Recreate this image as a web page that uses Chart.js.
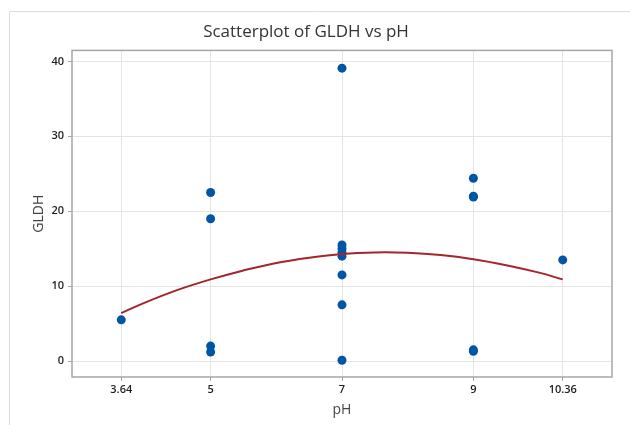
<!DOCTYPE html>
<html>
<head>
<meta charset="utf-8">
<script src="https://cdn.jsdelivr.net/npm/chart.js@4"></script>
<style>
  html, body { margin: 0; padding: 0; background: #fff; }
  #wrap { width: 630px; height: 425px; }
</style>
</head>
<body>
<div id="wrap"><canvas id="plot" width="630" height="425"></canvas></div>
<script>
// observed points (pH, GLDH)
const phObs      = [3.64, 5, 5, 5, 5, 7, 7, 7, 7, 7, 7, 7, 7, 9, 9, 9, 9, 9, 10.36];
const gldhValues = [5.5, 22.5, 19.0, 2.0, 1.2, 39.1, 15.5, 15.0, 14.5, 14.0, 11.5, 7.5, 0.1, 24.4, 22.0, 21.9, 1.5, 1.3, 13.5];

// fitted curve
const fitPh   = [3.64, 4, 4.5, 5, 5.5, 6, 6.5, 7, 7.5, 8, 8.5, 9, 9.5, 10, 10.36];
const fitGldh = [6.4, 7.8, 9.5, 10.9, 12.1, 13.1, 13.8, 14.3, 14.5, 14.45, 14.15, 13.6, 12.8, 11.8, 10.9];

const xTickValues = [3.64, 5, 7, 9, 10.36];
const yTickValues = [0, 10, 20, 30, 40];

const pointData = phObs.map((x, i) => ({ x: x, y: gldhValues[i] }));
const fitData = fitPh.map((x, i) => ({ x: x, y: fitGldh[i] }));

const frameColor = '#a6a6a6';
const gridColor = '#e4e4e4';

const framePlugin = {
  id: 'frame',
  beforeDraw(chart) {
    const ctx = chart.ctx;
    ctx.save();
    ctx.strokeStyle = '#dcdcdc';
    ctx.lineWidth = 1;
    ctx.beginPath();
    ctx.moveTo(9.5, 425);
    ctx.lineTo(9.5, 11.5);
    ctx.lineTo(630, 11.5);
    ctx.stroke();
    ctx.restore();
  },
  beforeDatasetsDraw(chart) {
    const a = chart.chartArea;
    const ctx = chart.ctx;
    ctx.save();
    ctx.strokeStyle = frameColor;
    ctx.lineWidth = 1.5;
    ctx.strokeRect(a.left, a.top, a.right - a.left, a.bottom - a.top);
    ctx.restore();
  }
};

new Chart(document.getElementById('plot'), {
  type: 'scatter',
  data: {
    datasets: [
      {
        type: 'line',
        data: fitData,
        borderColor: '#a4262c',
        borderWidth: 2,
        pointRadius: 0,
        tension: 0.4,
        fill: false
      },
      {
        data: pointData,
        backgroundColor: '#0055a5',
        borderColor: '#0055a5',
        pointRadius: 4.5,
        borderWidth: 0
      }
    ]
  },
  plugins: [framePlugin],
  options: {
    responsive: false,
    animation: false,
    layout: { padding: { left: 0, right: 18, top: 0, bottom: 0 } },
    plugins: {
      legend: { display: false },
      tooltip: { enabled: false },
      title: {
        display: true,
        text: 'Scatterplot of GLDH vs pH',
        color: '#333',
        font: { family: 'Open Sans', size: 17, weight: 'normal' },
        padding: { top: 22, bottom: 8 }
      }
    },
    scales: {
      x: {
        type: 'linear',
        min: 2.89,
        max: 11.11,
        afterBuildTicks(scale) {
          scale.ticks = xTickValues.map(v => ({ value: v }));
        },
        afterFit(scale) { scale.height = 48; },
        ticks: {
          color: '#1e1e1e',
          font: { family: 'Open Sans', size: 11, weight: '600' },
          padding: 2,
          maxRotation: 0,
          autoSkip: false,
          callback: v => String(v)
        },
        grid: { color: gridColor, tickColor: frameColor, tickLength: 4 },
        border: { display: false },
        title: {
          display: true,
          text: 'pH',
          color: '#444',
          font: { family: 'Open Sans', size: 14 },
          padding: { top: 0, bottom: 7 }
        }
      },
      y: {
        type: 'linear',
        min: -2.13,
        max: 41.47,
        afterBuildTicks(scale) {
          scale.ticks = yTickValues.map(v => ({ value: v }));
        },
        afterFit(scale) { scale.width = 72; },
        ticks: {
          color: '#1e1e1e',
          font: { family: 'Open Sans', size: 11, weight: '600' },
          padding: 4
        },
        grid: { color: gridColor, tickColor: frameColor, tickLength: 4 },
        border: { display: false },
        title: {
          display: true,
          text: 'GLDH',
          color: '#444',
          font: { family: 'Open Sans', size: 14 },
          padding: { top: 31, bottom: 0 }
        }
      }
    }
  }
});
</script>
</body>
</html>
